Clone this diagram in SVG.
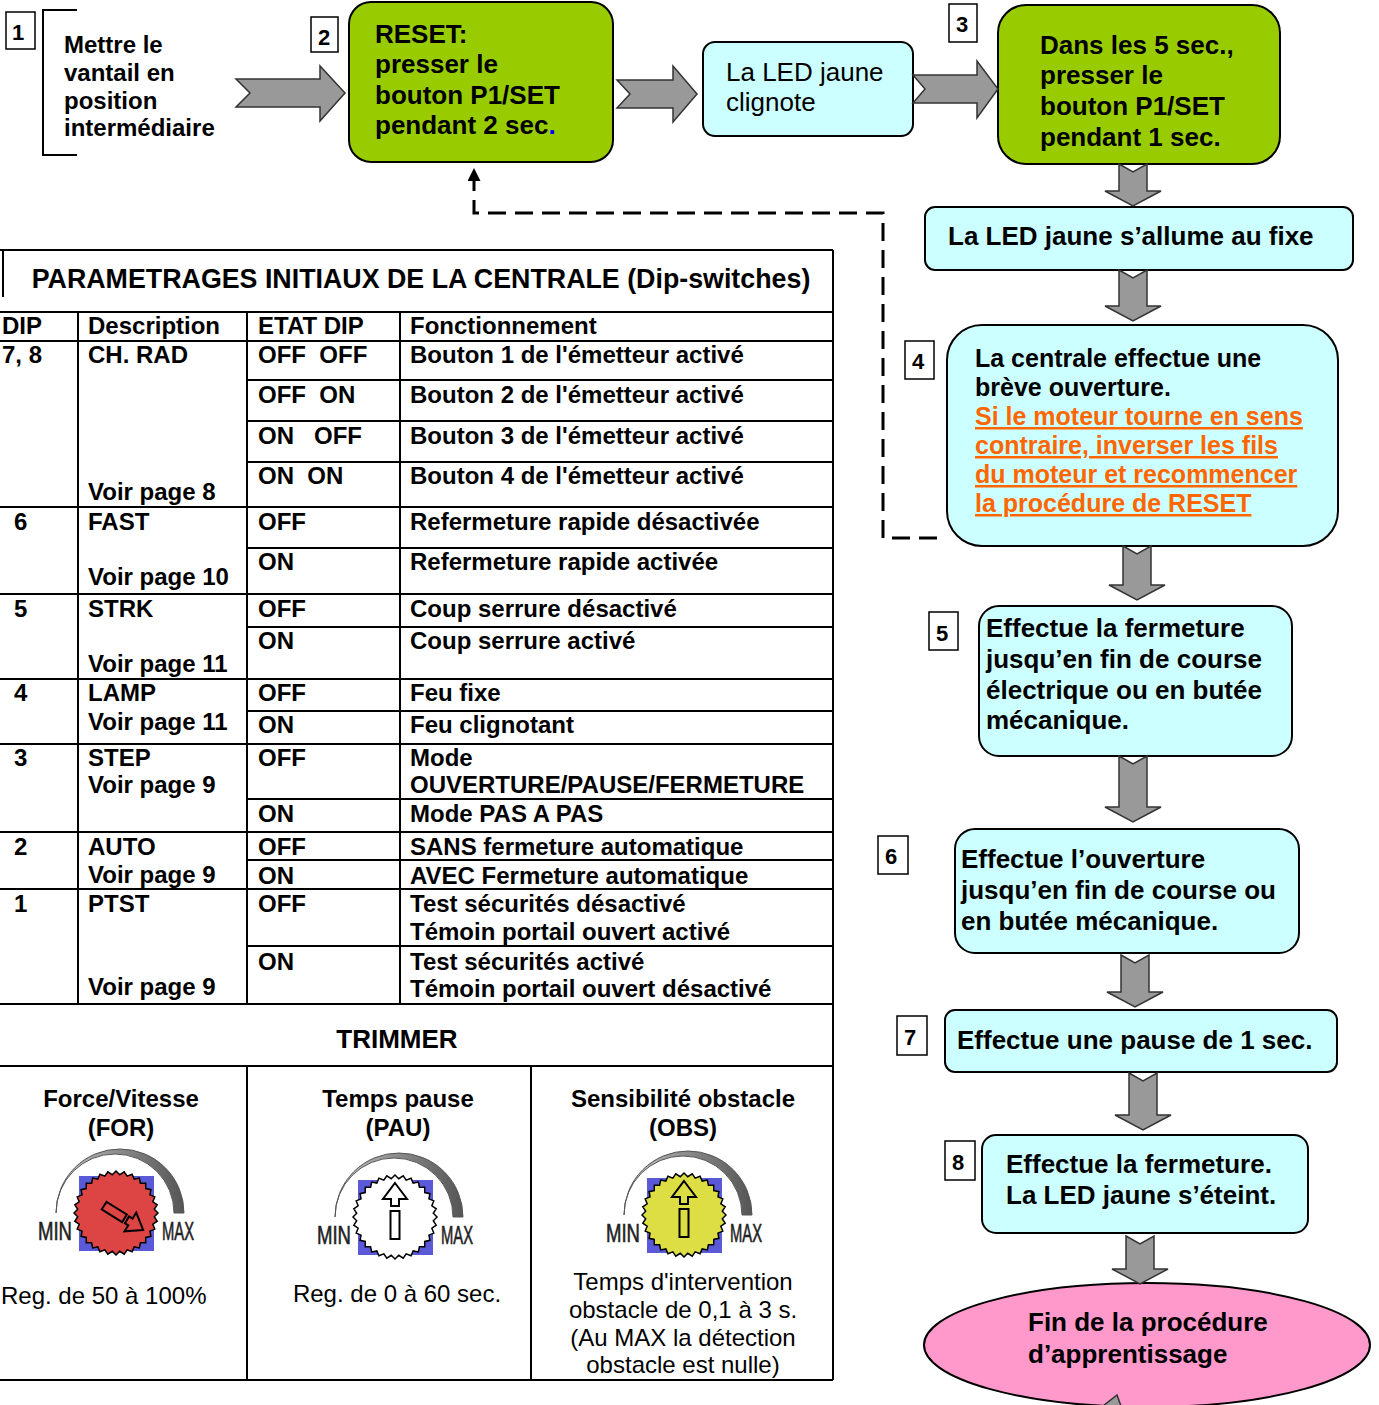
<svg xmlns="http://www.w3.org/2000/svg" width="1379" height="1405" viewBox="0 0 1379 1405">
<style>
text{font-family:"Liberation Sans",Arial,sans-serif;fill:#000}
.b{font-weight:bold}
.s22{font-size:22px}
.s24{font-size:24px}
.s25{font-size:25px}
.s26{font-size:26px}
.s27{font-size:26.8px}
.green{fill:#99CC00;stroke:#000;stroke-width:2}
.cyan{fill:#CCFFFF;stroke:#000;stroke-width:2}
.num{fill:#fff;stroke:#000;stroke-width:1.5}
.arr{fill:#999;stroke:#333;stroke-width:1.5}
.grid{fill:none;stroke:#000;stroke-width:2}
.or{fill:#FF6600;text-decoration:underline}
.mid{text-anchor:middle}
.pre{white-space:pre}
.mm{font-size:25px;fill:#222;stroke:#222;stroke-width:0.6}
.ind{fill:none;stroke:#000;stroke-width:2}
</style>
<defs>
<linearGradient id="arcg" x1="0" y1="0" x2="1" y2="0">
<stop offset="0" stop-color="#c8c8c8"/><stop offset="0.5" stop-color="#8a8a8a"/><stop offset="1" stop-color="#555"/>
</linearGradient>
<polygon id="gear" points="42,0 38.31,3.77 41.19,8.19 36.84,11.18 38.8,16.07 33.95,18.15 34.92,23.33 29.76,24.42 29.7,29.7 24.42,29.76 23.33,34.92 18.15,33.95 16.07,38.8 11.18,36.84 8.19,41.19 3.77,38.31 0,42 -3.77,38.31 -8.19,41.19 -11.18,36.84 -16.07,38.8 -18.15,33.95 -23.33,34.92 -24.42,29.76 -29.7,29.7 -29.76,24.42 -34.92,23.33 -33.95,18.15 -38.8,16.07 -36.84,11.18 -41.19,8.19 -38.31,3.77 -42,0 -38.31,-3.77 -41.19,-8.19 -36.84,-11.18 -38.8,-16.07 -33.95,-18.15 -34.92,-23.33 -29.76,-24.42 -29.7,-29.7 -24.42,-29.76 -23.33,-34.92 -18.15,-33.95 -16.07,-38.8 -11.18,-36.84 -8.19,-41.19 -3.77,-38.31 0,-42 3.77,-38.31 8.19,-41.19 11.18,-36.84 16.07,-38.8 18.15,-33.95 23.33,-34.92 24.42,-29.76 29.7,-29.7 29.76,-24.42 34.92,-23.33 33.95,-18.15 38.8,-16.07 36.84,-11.18 41.19,-8.19 38.31,-3.77"/>
<g id="dial">
<path d="M-60,0 A64,64 0 0 1 68,0 L58,0 A59,59 0 0 0 -60,0 Z" fill="url(#arcg)" stroke="#555" stroke-width="1"/>
<rect x="-37" y="-37" width="75" height="75" fill="#5A5AD8"/>
<text class="mm" x="-78" y="27" textLength="34" lengthAdjust="spacingAndGlyphs">MIN</text>
<text class="mm" x="46" y="27" textLength="32" lengthAdjust="spacingAndGlyphs">MAX</text>
</g>
<g id="uparrow">
<path class="ind" d="M0,-34 L12,-18 L4,-18 L4,-11 L-4,-11 L-4,-18 L-12,-18 Z"/>
<rect class="ind" x="-4.5" y="-6" width="9" height="28"/>
</g>
<marker id="ah" viewBox="0 0 10 10" refX="10" refY="5" markerWidth="13" markerHeight="13" markerUnits="userSpaceOnUse" orient="auto">
<path d="M0,0 L10,5 L0,10 Z" fill="#000"/>
</marker>
</defs>
<rect width="1379" height="1405" fill="#fff"/>

<g id="nodes">
<g id="step1">
<rect class="num" x="6" y="12" width="29" height="37"/>
<text class="b s22" x="12" y="40">1</text>
<path d="M77,10 H43 V155 H77" fill="none" stroke="#000" stroke-width="2"/>
<text class="b s24" x="64" y="53">Mettre le</text>
<text class="b s24" x="64" y="81">vantail en</text>
<text class="b s24" x="64" y="109">position</text>
<text class="b s24" x="64" y="136">intermédiaire</text>
</g>
<g id="step2">
<rect class="num" x="311" y="17" width="27" height="35"/>
<text class="b s22" x="318" y="45">2</text>
<rect class="green" x="349" y="2" width="264" height="160" rx="22"/>
<text class="b s26" x="375" y="43">RESET:</text>
<text class="b s26" x="375" y="73">presser le</text>
<text class="b s26" x="375" y="104">bouton P1/SET</text>
<text class="b s26" x="375" y="134">pendant 2 sec<tspan fill="#0000FF">.</tspan></text>
</g>
<g id="led-clignote">
<rect class="cyan" x="703" y="42" width="210" height="94" rx="12"/>
<text class="s26" x="726" y="81">La LED jaune</text>
<text class="s26" x="726" y="111">clignote</text>
</g>
<g id="step3">
<rect class="num" x="949" y="4" width="28" height="38"/>
<text class="b s22" x="956" y="32">3</text>
<rect class="green" x="998" y="5" width="282" height="159" rx="28"/>
<text class="b s26" x="1040" y="54">Dans les 5 sec.,</text>
<text class="b s26" x="1040" y="84">presser le</text>
<text class="b s26" x="1040" y="115">bouton P1/SET</text>
<text class="b s26" x="1040" y="146">pendant 1 sec.</text>
</g>
<g id="led-fixe">
<rect class="cyan" x="925" y="207" width="428" height="63" rx="10"/>
<text class="b s26" x="948" y="245">La LED jaune s’allume au fixe</text>
</g>
<g id="step4">
<rect class="num" x="905" y="341" width="29" height="38"/>
<text class="b s22" x="912" y="369">4</text>
<rect class="cyan" x="947" y="325" width="391" height="221" rx="35"/>
<text class="b s25" x="975" y="367">La centrale effectue une</text>
<text class="b s25" x="975" y="396">brève ouverture.</text>
<text class="b s25 or" x="975" y="425">Si le moteur tourne en sens</text>
<text class="b s25 or" x="975" y="454">contraire, inverser les fils</text>
<text class="b s25 or" x="975" y="483">du moteur et recommencer</text>
<text class="b s25 or" x="975" y="512">la procédure de RESET</text>
</g>
<g id="step5">
<rect class="num" x="929" y="612" width="29" height="38"/>
<text class="b s22" x="936" y="641">5</text>
<rect class="cyan" x="979" y="606" width="313" height="150" rx="20"/>
<text class="b s26" x="986" y="637">Effectue la fermeture</text>
<text class="b s26" x="986" y="668">jusqu’en fin de course</text>
<text class="b s26" x="986" y="699">électrique ou en butée</text>
<text class="b s26" x="986" y="729">mécanique.</text>
</g>
<g id="step6">
<rect class="num" x="878" y="836" width="30" height="38"/>
<text class="b s22" x="885" y="864">6</text>
<rect class="cyan" x="955" y="829" width="344" height="124" rx="20"/>
<text class="b s26" x="961" y="868">Effectue l’ouverture</text>
<text class="b s26" x="961" y="899">jusqu’en fin de course ou</text>
<text class="b s26" x="961" y="930">en butée mécanique.</text>
</g>
<g id="step7">
<rect class="num" x="897" y="1016" width="30" height="39"/>
<text class="b s22" x="904" y="1045">7</text>
<rect class="cyan" x="945" y="1010" width="392" height="62" rx="10"/>
<text class="b s26" x="957" y="1049">Effectue une pause de 1 sec.</text>
</g>
<g id="step8">
<rect class="num" x="945" y="1141" width="30" height="39"/>
<text class="b s22" x="952" y="1170">8</text>
<rect class="cyan" x="982" y="1135" width="326" height="98" rx="14"/>
<text class="b s26" x="1006" y="1173">Effectue la fermeture.</text>
<text class="b s26" x="1006" y="1204">La LED jaune s’éteint.</text>
</g>
<g id="end">
<ellipse cx="1147" cy="1345" rx="223" ry="62" fill="#FF99CC" stroke="#000" stroke-width="2"/>
<text class="b s26" x="1028" y="1331">Fin de la procédure</text>
<text class="b s26" x="1028" y="1363">d’apprentissage</text>
</g>

<g id="table">
<path class="grid" d="M0,250 H833 M3,250 V297 M0,312 H833 M0,341 H833 M0,507 H833 M0,594 H833 M0,679 H833 M0,744 H833 M0,832 H833 M0,889 H833 M0,1004 H833 M0,1066 H833 M0,1380 H833 M247,380 H833 M247,421 H833 M247,462 H833 M247,548 H833 M247,627 H833 M247,711 H833 M247,799 H833 M247,860 H833 M247,946 H833 M833,250 V1380 M78,312 V1004 M247,312 V1004 M400,312 V1004 M247,1066 V1380 M531,1066 V1380"/>
<text class="b s27 mid" x="421" y="288">PARAMETRAGES INITIAUX DE LA CENTRALE (Dip-switches)</text>
<g class="b s24">
<text x="2" y="334">DIP</text><text x="88" y="334">Description</text><text x="258" y="334">ETAT DIP</text><text x="410" y="334">Fonctionnement</text>
<text x="2" y="363">7, 8</text><text x="88" y="363">CH. RAD</text><text class="pre" x="258" y="363">OFF  OFF</text><text x="410" y="363">Bouton 1 de l'émetteur activé</text>
<text class="pre" x="258" y="403">OFF  ON</text><text x="410" y="403">Bouton 2 de l'émetteur activé</text>
<text class="pre" x="258" y="444">ON   OFF</text><text x="410" y="444">Bouton 3 de l'émetteur activé</text>
<text class="pre" x="258" y="484">ON  ON</text><text x="410" y="484">Bouton 4 de l'émetteur activé</text>
<text x="88" y="500">Voir page 8</text>
<text x="14" y="530">6</text><text x="88" y="530">FAST</text><text x="258" y="530">OFF</text><text x="410" y="530">Refermeture rapide désactivée</text>
<text x="258" y="570">ON</text><text x="410" y="570">Refermeture rapide activée</text>
<text x="88" y="585">Voir page 10</text>
<text x="14" y="617">5</text><text x="88" y="617">STRK</text><text x="258" y="617">OFF</text><text x="410" y="617">Coup serrure désactivé</text>
<text x="258" y="649">ON</text><text x="410" y="649">Coup serrure activé</text>
<text x="88" y="672">Voir page 11</text>
<text x="14" y="701">4</text><text x="88" y="701">LAMP</text><text x="258" y="701">OFF</text><text x="410" y="701">Feu fixe</text>
<text x="88" y="730">Voir page 11</text><text x="258" y="733">ON</text><text x="410" y="733">Feu clignotant</text>
<text x="14" y="766">3</text><text x="88" y="766">STEP</text><text x="258" y="766">OFF</text><text x="410" y="766">Mode</text>
<text x="88" y="793">Voir page 9</text><text x="410" y="793">OUVERTURE/PAUSE/FERMETURE</text>
<text x="258" y="822">ON</text><text x="410" y="822">Mode PAS A PAS</text>
<text x="14" y="855">2</text><text x="88" y="855">AUTO</text><text x="258" y="855">OFF</text><text x="410" y="855">SANS fermeture automatique</text>
<text x="88" y="883">Voir page 9</text><text x="258" y="884">ON</text><text x="410" y="884">AVEC Fermeture automatique</text>
<text x="14" y="912">1</text><text x="88" y="912">PTST</text><text x="258" y="912">OFF</text><text x="410" y="912">Test sécurités désactivé</text>
<text x="410" y="940">Témoin portail ouvert activé</text>
<text x="258" y="970">ON</text><text x="410" y="970">Test sécurités activé</text>
<text x="88" y="995">Voir page 9</text><text x="410" y="997">Témoin portail ouvert désactivé</text>
</g>
<text class="b s26 mid" x="397" y="1048">TRIMMER</text>
<g class="b s24 mid">
<text x="121" y="1107">Force/Vitesse</text><text x="121" y="1136">(FOR)</text>
<text x="398" y="1107">Temps pause</text><text x="398" y="1136">(PAU)</text>
<text x="683" y="1107">Sensibilité obstacle</text><text x="683" y="1136">(OBS)</text>
</g>
<g class="s24">
<text x="1" y="1304">Reg. de 50 à 100%</text>
<text class="mid" x="397" y="1302">Reg. de 0 à 60 sec.</text>
<text class="mid" x="683" y="1290">Temps d'intervention</text>
<text class="mid" x="683" y="1318">obstacle de 0,1 à 3 s.</text>
<text class="mid" x="683" y="1346">(Au MAX la détection</text>
<text class="mid" x="683" y="1373">obstacle est nulle)</text>
</g>
</g>

<g id="knob-for" transform="translate(116,1213)">
<use href="#dial"/>
<use href="#gear" fill="#DD4444" stroke="#000" stroke-width="1.5"/>
<g transform="rotate(122)">
<path class="ind" d="M0,-32 L11,-17 L4,-17 L4,-13 L-4,-13 L-4,-17 L-11,-17 Z"/>
<rect class="ind" x="-4.5" y="-10" width="9" height="24"/>
</g>
</g>
<g id="knob-pau" transform="translate(395,1217)">
<use href="#dial"/>
<use href="#gear" fill="#FFFFFF" stroke="#000" stroke-width="1.5"/>
<use href="#uparrow"/>
</g>
<g id="knob-obs" transform="translate(684,1215)">
<use href="#dial"/>
<use href="#gear" fill="#DDDD44" stroke="#000" stroke-width="1.5"/>
<use href="#uparrow"/>
</g>
</g>

<g id="connectors">
<polygon class="arr" points="236,79 320,79 320,66 345,93 320,121 320,107 236,107 250,93"/>
<polygon class="arr" points="617,80 673,80 673,66 697,94 673,122 673,108 617,108 630,94"/>
<polygon class="arr" points="913,75 977,75 977,61 998,89 977,118 977,103 913,103 925,89"/>
<polygon class="arr" points="1119,164 1133,172 1147,164 1147,191 1161,191 1133,206 1105,191 1119,191"/>
<polygon class="arr" points="1119,270 1133,278 1147,270 1147,306 1161,306 1133,321 1105,306 1119,306"/>
<polygon class="arr" points="1123,546 1137,554 1151,546 1151,585 1165,585 1137,600 1109,585 1123,585"/>
<polygon class="arr" points="1119,756 1133,764 1147,756 1147,807 1161,807 1133,822 1105,807 1119,807"/>
<polygon class="arr" points="1121,955 1135,963 1149,955 1149,992 1163,992 1135,1007 1107,992 1121,992"/>
<polygon class="arr" points="1129,1073 1143,1081 1157,1073 1157,1115 1171,1115 1143,1130 1115,1115 1129,1115"/>
<polygon class="arr" points="1126,1236 1140,1244 1154,1236 1154,1269 1168,1269 1140,1284 1112,1269 1126,1269"/>
<polygon class="arr" points="1103,1406 1117,1395 1121,1406"/>
<path d="M937,538 H883 V213 H474 V168" fill="none" stroke="#000" stroke-width="3" stroke-dasharray="18 9" marker-end="url(#ah)"/>
</g>
</svg>
